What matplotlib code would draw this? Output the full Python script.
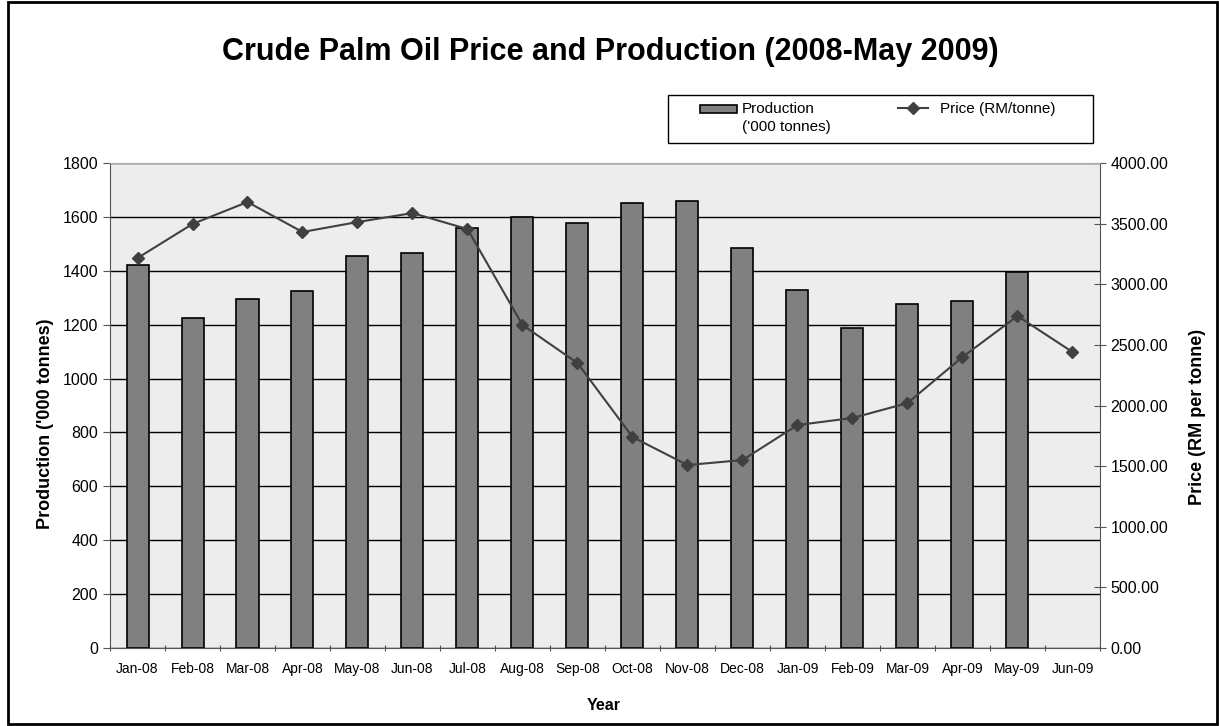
import matplotlib
matplotlib.use("Agg")
import matplotlib.pyplot as plt
import numpy as np
from matplotlib.patches import Rectangle
from matplotlib.lines import Line2D

plt.rcParams['font.family'] = ['Liberation Sans', 'DejaVu Sans']

months = ["Jan-08", "Feb-08", "Mar-08", "Apr-08", "May-08", "Jun-08", "Jul-08", "Aug-08",
          "Sep-08", "Oct-08", "Nov-08", "Dec-08", "Jan-09", "Feb-09", "Mar-09", "Apr-09",
          "May-09", "Jun-09"]
production = [1422, 1225, 1295, 1325, 1455, 1466, 1559, 1600, 1578, 1652, 1659, 1485,
              1329, 1188, 1277, 1288, 1396, np.nan]
price = [3216, 3497, 3678, 3431, 3513, 3587, 3455, 2664, 2350, 1740, 1509, 1550,
         1839, 1897, 2020, 2400, 2738, 2441]
left_ticks = [0, 200, 400, 600, 800, 1000, 1200, 1400, 1600, 1800]
right_ticks = [0, 500, 1000, 1500, 2000, 2500, 3000, 3500, 4000]

W, H = 1219, 726
fig = plt.figure(figsize=(W / 100, H / 100), dpi=100)
fig.patch.set_facecolor('white')


def fx(px):
    return px / W


def fy(py):
    return 1 - py / H


fig.add_artist(Rectangle((fx(8), fy(724)), fx(1209), 722 / H, transform=fig.transFigure,
                         fill=False, edgecolor='black', linewidth=2))

ax = fig.add_axes([fx(110), fy(648), fx(990), 485 / H])
ax.set_facecolor('#EDEDED')
x = np.arange(len(months))
ax.bar(x, production, width=0.4, color='#808080', edgecolor='black', linewidth=1.2,
       zorder=3)
ax.set_xlim(-0.5, len(months) - 0.5)
ax.set_ylim(0, 1800)
ax.set_yticks(left_ticks)
ax.yaxis.grid(True, color='black', linewidth=1.0, zorder=1)
ax.set_axisbelow(True)
ax.set_xticks(np.arange(-0.5, len(months), 1.0))
ax.set_xticklabels([])
ax.set_xticks(x, minor=True)
ax.set_xticklabels(months, minor=True, fontsize=10)
ax.tick_params(axis='x', which='minor', length=0, pad=10)
ax.tick_params(axis='x', which='major', length=5, direction='inout', color='#555555')
ax.tick_params(axis='y', labelsize=11.5, length=5, direction='out', color='#555555')
for s in ['top', 'right']:
    ax.spines[s].set_visible(False)
ax.spines['left'].set_color('#555555')
ax.spines['bottom'].set_color('#555555')

ax2 = ax.twinx()
ax2.plot(x, price, color='#404040', linewidth=1.5, marker='D', markersize=6,
         markerfacecolor='#404040', markeredgecolor='#404040', zorder=4)
ax2.set_ylim(0, 4000)
ax2.set_yticks(right_ticks)
ax2.set_yticklabels([f"{v:.2f}" for v in right_ticks])
ax2.tick_params(axis='y', labelsize=11.5, length=8, direction='inout', color='#555555')
ax2.spines['right'].set_color('#555555')
ax2.spines['top'].set_color('#AAAAAA')
ax2.spines['left'].set_visible(False)
ax2.spines['bottom'].set_visible(False)

# axis titles
fig.text(fx(46), fy(424), "Production ('000 tonnes)", rotation=90, ha='center',
         va='center', fontsize=13, fontweight='bold')
fig.text(fx(1198), fy(417), "Price (RM per tonne)", rotation=90, ha='center',
         va='center', fontsize=13, fontweight='bold')
fig.text(fx(604), fy(706), "Year", ha='center', va='center', fontsize=11.5,
         fontweight='bold')

fig.text(fx(610), fy(52), "Crude Palm Oil Price and Production (2008-May 2009)",
         ha='center', va='center', fontsize=22, fontweight='bold')

# legend (drawn manually to match layout)
fig.add_artist(Rectangle((fx(668), fy(143)), fx(425), 48 / H, transform=fig.transFigure,
                         facecolor='white', edgecolor='black', linewidth=1.0))
fig.add_artist(Rectangle((fx(700), fy(113)), fx(37), 8 / H, transform=fig.transFigure,
                         facecolor='#808080', edgecolor='black', linewidth=1.2))
fig.text(fx(742), fy(109), "Production", ha='left', va='center', fontsize=11)
fig.text(fx(742), fy(127), "('000 tonnes)", ha='left', va='center', fontsize=11)
fig.add_artist(Line2D([fx(898), fx(928)], [fy(108), fy(108)], transform=fig.transFigure,
                      color='#404040', linewidth=1.5))
fig.add_artist(Line2D([fx(913)], [fy(108)], transform=fig.transFigure, color='#404040',
                      marker='D', markersize=6, linestyle='none'))
fig.text(fx(940), fy(109), "Price (RM/tonne)", ha='left', va='center', fontsize=11)

fig.savefig("out.png", dpi=100)
